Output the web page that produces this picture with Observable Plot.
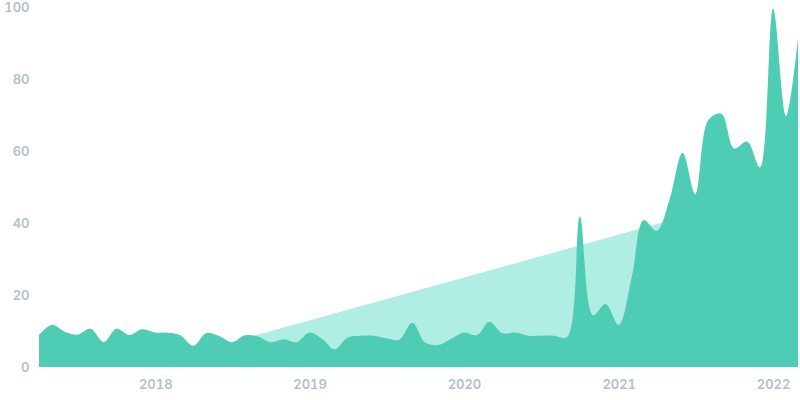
<!DOCTYPE html>
<html>
<head>
<meta charset="utf-8">
<script src="https://cdn.jsdelivr.net/npm/d3@7"></script>
<script src="https://cdn.jsdelivr.net/npm/@observablehq/plot@0.6"></script>
<style>
  html, body { margin: 0; padding: 0; background: #ffffff; }
  #chart { width: 800px; height: 400px; }
</style>
</head>
<body>
<div id="chart"></div>
<script>
const months = [
  "2017-04","2017-05","2017-06","2017-07","2017-08","2017-09","2017-10","2017-11","2017-12",
  "2018-01","2018-02","2018-03","2018-04","2018-05","2018-06","2018-07","2018-08","2018-09","2018-10","2018-11","2018-12",
  "2019-01","2019-02","2019-03","2019-04","2019-05","2019-06","2019-07","2019-08","2019-09","2019-10","2019-11","2019-12",
  "2020-01","2020-02","2020-03","2020-04","2020-05","2020-06","2020-07","2020-08","2020-09","2020-10","2020-11","2020-12",
  "2021-01","2021-02","2021-03","2021-04","2021-05","2021-06","2021-07","2021-08","2021-09","2021-10","2021-11","2021-12",
  "2022-01","2022-02","2022-03"
];
const values = [
  8.9, 11.7, 9.8, 9.0, 10.6, 6.9, 10.6, 8.9, 10.5,
  9.6, 9.5, 8.8, 5.9, 9.4, 8.6, 6.9, 8.8, 8.5, 6.9, 7.7, 6.9,
  9.6, 7.7, 4.9, 8.2, 8.7, 8.7, 8.0, 7.6, 12.3, 6.8, 6.1, 7.8,
  9.6, 8.9, 12.6, 9.4, 9.6, 8.7, 8.7, 8.7, 8.3, 41.8, 14.4, 17.5,
  11.7, 25.1, 40.8, 37.8, 46.4, 59.5, 48.0, 68.6, 70.3, 60.7, 62.6, 55.5,
  99.6, 69.7, 91.3
];
const trendMonths = ["2018-08", "2021-05"];
const trendValues = [8.0, 40.7];
const yTicks = [0, 20, 40, 60, 80, 100];

const parse = d3.utcParse("%Y-%m");
const main = months.map((m, i) => ({date: parse(m), value: values[i]}));
const trend = trendMonths.map((m, i) => ({date: parse(m), value: trendValues[i]}));

const chart = Plot.plot({
  width: 800,
  height: 400,
  marginLeft: 39,
  marginRight: 2,
  marginTop: 7,
  marginBottom: 33,
  style: {
    fontFamily: "Inter, 'Open Sans', sans-serif",
    fontSize: "13px",
    fontWeight: 600,
    color: "#b3bfcd",
    background: "#ffffff"
  },
  x: {type: "utc", domain: d3.extent(main, d => d.date)},
  y: {domain: [0, 100]},
  marks: [
    Plot.areaY(trend, {x: "date", y: "value", fill: "#b0ede3"}),
    Plot.areaY(main, {x: "date", y: "value", fill: "#4ecdb4", curve: "catmull-rom"}),
    Plot.axisX({ticks: d3.utcYear.every(1), tickFormat: d3.utcFormat("%Y"), tickSize: 0, tickPadding: 12, label: null}),
    Plot.axisY({ticks: yTicks, tickSize: 0, tickPadding: 10, label: null})
  ]
});
document.getElementById("chart").appendChild(chart);
</script>
</body>
</html>
